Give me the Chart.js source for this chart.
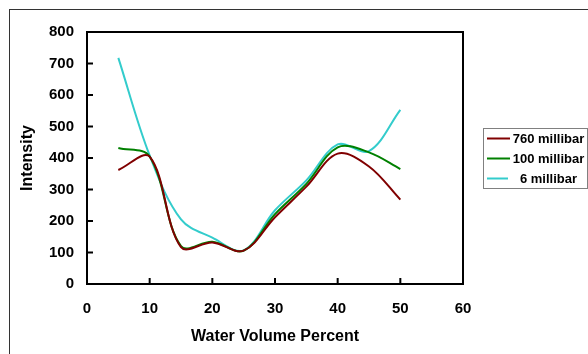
<!DOCTYPE html>
<html>
<head>
<meta charset="utf-8">
<script src="https://cdn.jsdelivr.net/npm/chart.js@4"></script>
<style>
    body { margin: 0; background: #fff; }
    canvas { display: block; }
</style>
</head>
<body>
<canvas id="line-chart" width="588" height="354"></canvas>
<script>
(function () {
    "use strict";

    // Data
    var waterPercent = [5, 10, 15, 20, 25, 30, 35, 40, 45, 50];
    var mbar760 = [362, 404, 117, 132, 106, 212, 309, 414, 373, 268];
    var mbar100 = [432, 405, 120, 134, 106, 222, 318, 434, 418, 365];
    var mbar6 = [718, 408, 205, 147, 107, 234, 329, 443, 422, 553];
    var seriesNames = ["760 millibar", "100 millibar", "6 millibar"];
    var seriesColors = ["#800000", "#008000", "#33CCCC"];
    var xTicks = [0, 10, 20, 30, 40, 50, 60];
    var yTicks = [0, 100, 200, 300, 400, 500, 600, 700, 800];

    var fontFamily = "'Liberation Sans', Arial, sans-serif";

    function points(ys) {
        return waterPercent.map(function (x, i) {
            return { x: x, y: ys[i] };
        });
    }

    // Outer frame, plot border, inward tick marks and legend
    var excelLook = {
        id: "excelLook",
        beforeDraw: function (chart) {
            var c = chart.ctx;
            c.save();
            c.fillStyle = "#fff";
            c.fillRect(0, 0, chart.width, chart.height);
            c.strokeStyle = "#333";
            c.lineWidth = 1;
            c.strokeRect(9.5, 9.5, 700, 500);
            c.restore();
        },
        afterDraw: function (chart) {
            var c = chart.ctx;
            var a = chart.chartArea;
            var xs = chart.scales.x;
            var ys = chart.scales.y;
            c.save();
            c.strokeStyle = "#000";
            c.lineWidth = 2;
            c.strokeRect(a.left, a.top, a.right - a.left, a.bottom - a.top);
            c.beginPath();
            xTicks.forEach(function (v) {
                var px = xs.getPixelForValue(v);
                c.moveTo(px, a.bottom);
                c.lineTo(px, a.bottom - 6);
            });
            yTicks.forEach(function (v) {
                var py = ys.getPixelForValue(v);
                c.moveTo(a.left, py);
                c.lineTo(a.left + 6, py);
            });
            c.stroke();

            // legend
            c.strokeStyle = "#808080";
            c.lineWidth = 1;
            c.strokeRect(483.5, 128.5, 104, 60);
            c.font = "bold 13px " + fontFamily;
            c.textAlign = "center";
            c.textBaseline = "middle";
            chart.data.datasets.forEach(function (ds, i) {
                var y = 138.5 + i * 20;
                c.strokeStyle = ds.borderColor;
                c.lineWidth = 2;
                c.beginPath();
                c.moveTo(487, y);
                c.lineTo(i === 2 ? 508 : 510, y);
                c.stroke();
                c.fillStyle = "#000";
                c.fillText(ds.label, 548.5, y + 1);
            });
            c.restore();
        },
    };

    var ctx = document.getElementById("line-chart").getContext("2d");
    var myChart = new Chart(ctx, {
        type: "line",
        data: {
            datasets: seriesNames.map(function (name, i) {
                return {
                    label: name,
                    data: points([mbar760, mbar100, mbar6][i]),
                    borderColor: seriesColors[i],
                    backgroundColor: seriesColors[i],
                    borderWidth: 2,
                    pointRadius: 0,
                    tension: 0.35,
                    fill: false,
                };
            }),
        },
        options: {
            responsive: false,
            animation: false,
            layout: {
                padding: { left: 0, right: 125, top: 32, bottom: 0 },
            },
            plugins: {
                legend: { display: false },
                tooltip: { enabled: false },
            },
            scales: {
                x: {
                    type: "linear",
                    min: 0,
                    max: 60,
                    afterFit: function (scale) {
                        scale.height = 70;
                    },
                    ticks: {
                        stepSize: 10,
                        padding: 16,
                        color: "#000",
                        font: { family: fontFamily, size: 15, weight: "bold" },
                    },
                    grid: { display: false, drawTicks: false },
                    border: { display: false },
                    title: {
                        display: true,
                        text: "Water Volume Percent",
                        color: "#000",
                        padding: { top: 0, bottom: 8 },
                        font: { family: fontFamily, size: 16, weight: "bold" },
                    },
                },
                y: {
                    min: 0,
                    max: 800,
                    afterFit: function (scale) {
                        scale.width = 87;
                    },
                    ticks: {
                        stepSize: 100,
                        padding: 13,
                        color: "#000",
                        font: { family: fontFamily, size: 15, weight: "bold" },
                    },
                    grid: { display: false, drawTicks: false },
                    border: { display: false },
                    title: {
                        display: true,
                        text: "Intensity",
                        color: "#000",
                        padding: { top: 18, bottom: 0 },
                        font: { family: fontFamily, size: 16, weight: "bold" },
                    },
                },
            },
        },
        plugins: [excelLook],
    });
})();
</script>
</body>
</html>
